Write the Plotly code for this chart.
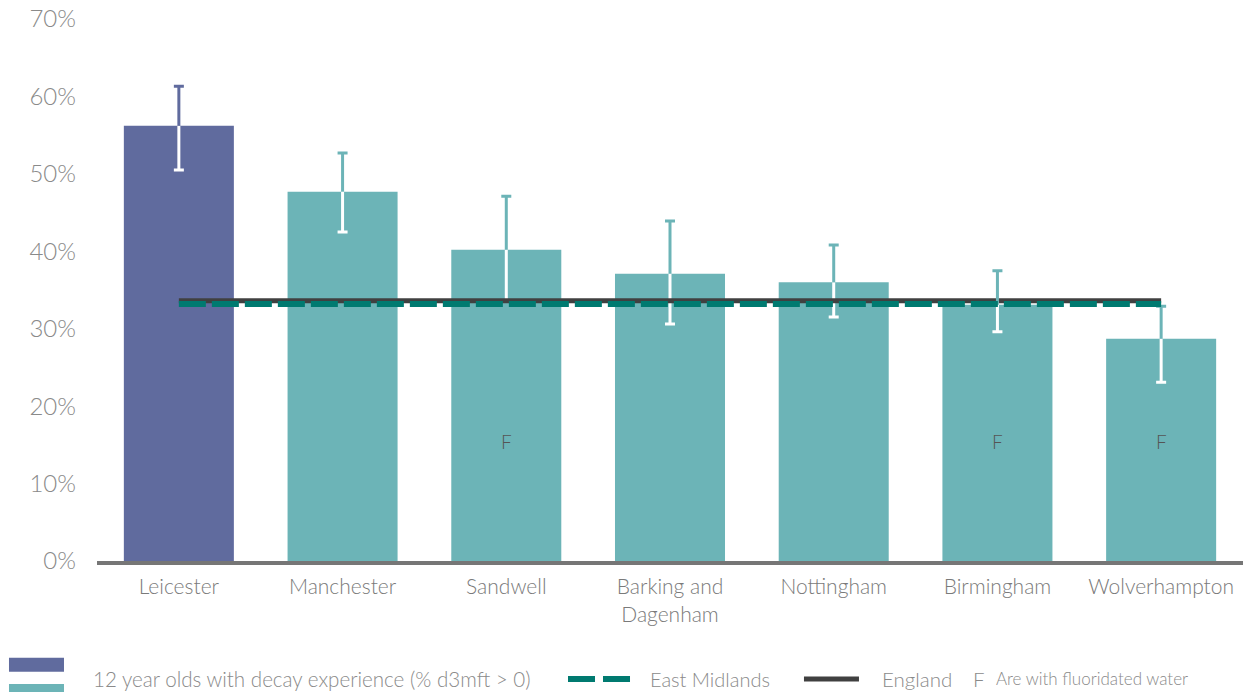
import plotly.graph_objects as go

# Decay experience among 12 year olds, by local authority
areas = ["Leicester", "Manchester", "Sandwell", "Barking and<br>Dagenham",
         "Nottingham", "Birmingham", "Wolverhampton"]
decay_pct = [56.2, 47.7, 40.2, 37.1, 36.0, 33.1, 28.7]
ci_upper = [61.3, 52.7, 47.1, 43.9, 40.8, 37.5, 32.9]
ci_lower = [50.5, 42.5, 33.6, 30.6, 31.5, 29.6, 23.1]
fluoridated = [False, False, True, False, False, True, True]

east_midlands_pct = 33.2
england_pct = 33.6

y_ticks = [0, 10, 20, 30, 40, 50, 60, 70]
y_tick_labels = [f"{v}%" for v in y_ticks]

PURPLE = "#606b9e"
TEAL = "#6cb4b7"
DARK_TEAL = "#007a70"
ENGLAND_GREY = "#404040"
TEXT_GREY = "#8a8a8a"
FONT = "Lato"

n = len(areas)
bar_colors = [PURPLE] + [TEAL] * (n - 1)
zeros = [0] * n


def whisker(x, y, plus, minus, color, cap):
    return go.Scatter(
        x=x, y=y, mode="markers", marker=dict(size=1, opacity=0),
        error_y=dict(type="data", symmetric=False, array=plus, arrayminus=minus,
                     color=color, thickness=3, width=cap),
        showlegend=False, hoverinfo="skip",
    )


fig = go.Figure()

fig.add_trace(go.Bar(
    x=areas, y=decay_pct, marker=dict(color=bar_colors, line=dict(width=0)),
    width=0.672, showlegend=False, hoverinfo="skip",
))

# Lower half of each interval: white stem inside the bar, white cap
fig.add_trace(whisker(areas, decay_pct, zeros,
                      [v - lo for v, lo in zip(decay_pct, ci_lower)], "white", 0))
fig.add_trace(whisker(areas, ci_lower, zeros, zeros, "white", 5))

fig.add_trace(go.Scatter(
    x=areas, y=[england_pct] * n, mode="lines",
    line=dict(color=ENGLAND_GREY, width=5), showlegend=False, hoverinfo="skip",
))

# Upper half of each interval in the bar colour (per colour group)
for idx, col in (([0], PURPLE), (list(range(1, n)), TEAL)):
    xs = [areas[i] for i in idx]
    none = [0] * len(idx)
    fig.add_trace(whisker(xs, [decay_pct[i] for i in idx],
                          [ci_upper[i] - decay_pct[i] for i in idx], none, col, 0))
    fig.add_trace(whisker(xs, [ci_upper[i] for i in idx], none, none, col, 5))

fig.add_trace(go.Scatter(
    x=areas, y=[east_midlands_pct] * n, mode="lines",
    line=dict(color=DARK_TEAL, width=6, dash="27px,6px"),
    showlegend=False, hoverinfo="skip",
))

# "F" marks the areas with fluoridated water
for area, fl in zip(areas, fluoridated):
    if fl:
        fig.add_annotation(x=area, y=15.4, text="F", showarrow=False,
                           font=dict(family=FONT, size=19, color="#555555",
                                     weight=300))

# Legend row drawn beneath the axis
LEG_Y = -0.2177
shapes = [
    dict(type="rect", xref="paper", yref="paper", x0=-0.0768, x1=-0.0288,
         y0=-0.2042, y1=-0.1784, fillcolor=PURPLE, line=dict(width=0)),
    dict(type="rect", xref="paper", yref="paper", x0=-0.0768, x1=-0.0288,
         y0=-0.2450, y1=-0.2269, fillcolor=TEAL, line=dict(width=0)),
    dict(type="line", xref="paper", yref="paper", x0=0.4110, x1=0.4651,
         y0=LEG_Y, y1=LEG_Y,
         line=dict(color=DARK_TEAL, width=6, dash="27px,8px")),
    dict(type="line", xref="paper", yref="paper", x0=0.6169, x1=0.6649,
         y0=LEG_Y, y1=LEG_Y, line=dict(color=ENGLAND_GREY, width=5)),
]
legend_texts = [
    (-0.0055, "12 year olds with decay experience (% d3mft &gt; 0)", 20.6),
    (0.4808, "East Midlands", 20),
    (0.6832, "England", 20.5),
    (0.7627, "F", 20.5),
    (0.7827, "Are with fluoridated water", 17),
]
for x, txt, size in legend_texts:
    fig.add_annotation(xref="paper", yref="paper", x=x, y=LEG_Y, text=txt,
                       showarrow=False, xanchor="left", yanchor="middle",
                       font=dict(family=FONT, size=size, color=TEXT_GREY,
                                 weight=300))

fig.update_layout(
    width=1243, height=692,
    margin=dict(l=97, r=0, t=19, b=131),
    paper_bgcolor="white", plot_bgcolor="white",
    bargap=0.328, shapes=shapes,
    font=dict(family=FONT),
    xaxis=dict(showgrid=False, showline=True, linecolor="#767676", linewidth=4,
               ticks="", ticklabelstandoff=4,
               tickfont=dict(family=FONT, size=21, color="#7a7a7a", weight=300),
               zeroline=False),
    yaxis=dict(range=[0, 70], tickvals=y_ticks, ticktext=y_tick_labels,
               showgrid=False, showline=False, zeroline=False, ticks="",
               ticklabelstandoff=20,
               tickfont=dict(family=FONT, size=24, color=TEXT_GREY, weight=300)),
)

fig.write_html("out.html")
